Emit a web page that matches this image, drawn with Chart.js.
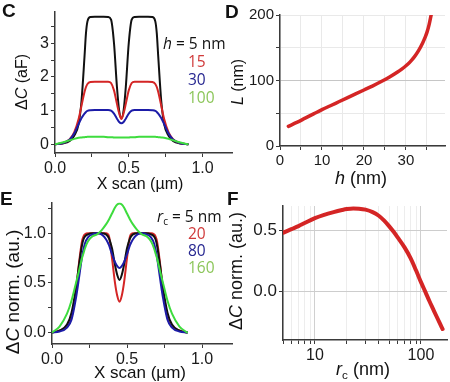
<!DOCTYPE html>
<html><head><meta charset="utf-8">
<script src="https://cdn.jsdelivr.net/npm/chart.js@4.4.1/dist/chart.umd.min.js"></script>
<style>
html,body{margin:0;padding:0;background:#fff;}
#wrap{position:relative;width:450px;height:382px;overflow:hidden;font-family:'Liberation Sans',Arial,sans-serif;background:#fff;}
canvas{position:absolute;}
.t{position:absolute;white-space:nowrap;line-height:1;color:#111;}
.rot{transform:translate(-50%,-50%) rotate(-90deg);}
.hc{transform:translate(-50%,-50%);}
.lg{font-family:'Open Sans',sans-serif;font-size:15.5px;transform:translateY(-50%);}
.pl{font-weight:bold;font-size:19px;}
sub{font-size:0.65em;vertical-align:-0.3em;line-height:0;}
</style></head>
<body><div id="wrap">
<canvas id="cC" width="235" height="191" style="left:0;top:0"></canvas>
<canvas id="cD" width="225" height="191" style="left:225px;top:0"></canvas>
<canvas id="cE" width="235" height="191" style="left:0;top:191px"></canvas>
<canvas id="cF" width="225" height="191" style="left:225px;top:191px"></canvas>

<div class="t pl" style="left:2px;top:1px">C</div>
<div class="t pl" style="left:225px;top:2px">D</div>
<div class="t pl" style="left:0px;top:189px">E</div>
<div class="t pl" style="left:227px;top:189px">F</div>

<div class="t rot" style="left:22px;top:82px;font-size:16px">Δ<i>C</i> (aF)</div>
<div class="t hc" style="left:140px;top:184px;font-size:16px">X scan (µm)</div>
<div class="t rot" style="left:238px;top:82px;font-size:16px"><i>L</i> (nm)</div>
<div class="t hc" style="left:361px;top:178px;font-size:18px"><i>h</i> (nm)</div>
<div class="t rot" style="left:12px;top:292px;font-size:19px">Δ<i>C</i> norm. (au.)</div>
<div class="t hc" style="left:140px;top:372px;font-size:17px">X scan (µm)</div>
<div class="t rot" style="left:236px;top:271px;font-size:18px">Δ<i>C</i> norm. (au.)</div>
<div class="t hc" style="left:363px;top:369px;font-size:18px"><i>r</i><sub>c</sub> (nm)</div>

<div class="t lg" style="left:163px;top:44px;color:#111"><i>h</i> = 5 nm</div>
<div class="t lg" style="left:188px;top:62px;color:#d03a3a">15</div>
<div class="t lg" style="left:188px;top:80px;color:#262690">30</div>
<div class="t lg" style="left:188px;top:98px;color:#8cc65a">100</div>

<div class="t lg" style="left:157px;top:217px;color:#111"><i>r</i><sub>c</sub> = 5 nm</div>
<div class="t lg" style="left:188px;top:234px;color:#d03a3a">20</div>
<div class="t lg" style="left:188px;top:251px;color:#262690">80</div>
<div class="t lg" style="left:188px;top:268px;color:#8cc65a">160</div>
</div>
<script>
// ---------- DATA ----------
// Panel C: ΔC (aF) vs X scan (µm) for h = 5, 15, 30, 100 nm
const cX = [0,0.05,0.1,0.13,0.16,0.18,0.2,0.21,0.22,0.24,0.27,0.3,0.33,0.36,0.38,0.4,0.42,0.435,0.45,0.465,0.48,0.5,0.52,0.54,0.57,0.6,0.63,0.66,0.68,0.69,0.7,0.72,0.74,0.77,0.8,0.85,0.9];
const cH5   = [0,0.02,0.1,0.25,0.6,1.3,2.6,3.3,3.65,3.78,3.79,3.79,3.79,3.78,3.7,3.0,1.7,1.0,0.78,1.0,1.7,3.0,3.7,3.78,3.79,3.79,3.79,3.78,3.65,3.3,2.6,1.3,0.6,0.25,0.1,0.02,0];
const cH15  = [0,0.03,0.15,0.35,0.75,1.15,1.55,1.7,1.79,1.85,1.86,1.86,1.86,1.86,1.82,1.6,1.2,0.92,0.75,0.92,1.2,1.6,1.82,1.86,1.86,1.86,1.86,1.85,1.79,1.7,1.55,1.15,0.75,0.35,0.15,0.03,0];
const cH30  = [0,0.03,0.14,0.32,0.6,0.78,0.91,0.96,0.99,1.01,1.02,1.02,1.02,1.02,1.0,0.91,0.76,0.66,0.62,0.66,0.76,0.91,1.0,1.02,1.02,1.02,1.02,1.01,0.99,0.96,0.91,0.78,0.6,0.32,0.14,0.03,0];
const cH100 = [0,0.05,0.12,0.16,0.19,0.2,0.21,0.215,0.22,0.22,0.22,0.22,0.22,0.21,0.21,0.2,0.2,0.2,0.2,0.2,0.2,0.2,0.21,0.21,0.22,0.22,0.22,0.22,0.22,0.215,0.21,0.2,0.19,0.16,0.12,0.05,0];
// Panel E: ΔC norm. vs X scan (µm) for rc = 5, 20, 80, 160 nm
const eX = [0,0.05,0.1,0.13,0.16,0.18,0.2,0.21,0.22,0.24,0.27,0.3,0.33,0.36,0.38,0.4,0.42,0.435,0.45,0.465,0.48,0.5,0.52,0.54,0.57,0.6,0.63,0.66,0.68,0.69,0.7,0.72,0.74,0.77,0.8,0.85,0.9];
const eR5   = [0,0.02,0.08,0.2,0.45,0.68,0.88,0.94,0.97,0.99,1.0,1.0,1.0,0.99,0.95,0.85,0.68,0.58,0.53,0.58,0.68,0.85,0.95,0.99,1.0,1.0,1.0,0.99,0.97,0.94,0.88,0.68,0.45,0.2,0.08,0.02,0];
const eR20  = [0,0.02,0.06,0.15,0.42,0.7,0.92,0.97,0.99,1.0,1.0,1.0,1.0,1.0,0.97,0.75,0.5,0.37,0.31,0.37,0.5,0.75,0.97,1.0,1.0,1.0,1.0,1.0,0.99,0.97,0.92,0.7,0.42,0.15,0.06,0.02,0];
const eR80  = [0,0.01,0.05,0.13,0.35,0.55,0.76,0.84,0.9,0.96,0.99,1.0,0.99,0.94,0.88,0.79,0.71,0.67,0.65,0.67,0.71,0.79,0.88,0.94,0.99,1.0,0.99,0.96,0.9,0.84,0.76,0.55,0.35,0.13,0.05,0.01,0];
const eR160 = [0,0.06,0.19,0.32,0.5,0.62,0.75,0.8,0.85,0.92,0.97,0.99,1.03,1.09,1.14,1.2,1.26,1.29,1.30,1.29,1.26,1.2,1.14,1.09,1.03,0.99,0.97,0.92,0.85,0.8,0.75,0.62,0.5,0.32,0.19,0.06,0];
// Panel D: L (nm) vs h (nm)
const dH = [2,4,6,8,10,12,14,16,18,20,22,24,26,28,29,30,31,32,33,34,34.5,35,35.5,36];
const dL = [30,36,42.5,49,55.5,61.5,67.5,73.5,79.5,85.5,91.5,98,105,113,117.5,122.5,128.5,136,145.5,157.5,165,173.5,185,200];
// Panel F: ΔC norm. vs rc (nm), log x
const fR  = [5,6,7,8,10,12,15,18,20,23,26,30,35,40,45,50,55,60,70,80,90,100,110,120,130,140,150,160];
const fDC = [0.48,0.51,0.535,0.56,0.60,0.625,0.65,0.667,0.675,0.68,0.678,0.67,0.65,0.62,0.58,0.535,0.49,0.445,0.36,0.27,0.17,0.075,-0.005,-0.08,-0.145,-0.205,-0.26,-0.31];
// Tick labels
const cXLabels = [0, 0.5, 1.0];
const cYLabels = [0, 1, 2, 3];
const dXLabels = [0, 10, 20, 30];
const dYLabels = [0, 100, 200];
const eXLabels = [0, 0.5, 1.0];
const eYLabels = [0, 0.5, 1.0];
const fXTicks  = [5,6,7,8,9,10,20,30,40,50,60,70,80,90,100];
const fXLabels = [10, 100];
const fYLabels = [0, 0.5];

// ---------- HELPERS ----------
const AX = '#3a3a3a';
const FONT = "'Liberation Sans', Arial, sans-serif";
const pts = (xs, ys) => xs.map((x, i) => ({x, y: ys[i]}));
const has = (arr, v) => arr.some(a => Math.abs(a - v) < 1e-9);
function ds(xs, ys, color, w) {
  return {data: pts(xs, ys), borderColor: color, borderWidth: w, pointRadius: 0, fill: false,
          cubicInterpolationMode: 'monotone', borderCapStyle: 'round', borderJoinStyle: 'round'};
}
function sc(o) {
  const s = {
    type: o.type || 'linear', min: o.min, max: o.max,
    border: {display: true, color: AX, width: 1.5},
    grid: {drawOnChartArea: !!o.grid, color: o.grid || AX, tickColor: AX, tickLength: 4, tickWidth: 1},
    ticks: {color: '#1a1a1a', font: {family: FONT, size: o.size}, padding: 2, autoSkip: false,
            maxRotation: 0, minRotation: 0, includeBounds: false,
            callback: v => has(o.labels, v) ? o.fmt(v) : ''},
    afterFit: o.fit
  };
  if (o.step) s.ticks.stepSize = o.step;
  if (o.fixed) s.afterBuildTicks = a => { a.ticks = o.fixed.map(v => ({value: v})); };
  return s;
}
function mk(id, datasets, x, y, pad) {
  new Chart(document.getElementById(id), {
    type: 'line',
    data: {datasets},
    options: {
      responsive: false, animation: false, devicePixelRatio: 1, events: [],
      layout: {padding: pad},
      plugins: {legend: {display: false}, tooltip: {enabled: false}},
      scales: {x, y}
    }
  });
}
const RED = '#d42525', BLUE = '#1c1ca8', GREEN = '#3edc3e', BLK = '#111111';
const f1 = v => v.toFixed(1), f0 = v => String(v);

// ---------- C ----------
mk('cC', [ds(cX, cH100, GREEN, 2), ds(cX, cH30, BLUE, 2), ds(cX, cH15, RED, 2), ds(cX, cH5, BLK, 2)],
  sc({min: 0, max: 1.2, step: 0.25, labels: cXLabels, fmt: f1, size: 16, fit: s => { s.height = 38; }}),
  sc({min: -0.26, max: 3.94, step: 0.5, labels: cYLabels, fmt: f0, size: 16, fit: s => { s.width = 55; }}),
  {left: 0, top: 10, right: 3, bottom: 0});

// ---------- D ----------
mk('cD', [ds(dH, dL, RED, 3.5)],
  sc({min: 0, max: 39.3, step: 5, labels: dXLabels, fmt: f0, size: 15, grid: '#e9e9e9', fit: s => { s.height = 45; }}),
  sc({min: 0, max: 200, step: 50, labels: dYLabels, fmt: f0, size: 15,
      grid: c => (c.tick && c.tick.value === 100) ? '#c6c6c6' : '#e9e9e9', fit: s => { s.width = 55; }}),
  {left: 0, top: 15, right: 5, bottom: 0});

// ---------- E ----------
mk('cE', [ds(eX, eR160, GREEN, 2), ds(eX, eR80, BLUE, 2), ds(eX, eR5, BLK, 2), ds(eX, eR20, RED, 2)],
  sc({min: 0, max: 1.2, step: 0.25, labels: eXLabels, fmt: f1, size: 16, fit: s => { s.height = 38; }}),
  sc({min: -0.116, max: 1.31, step: 0.25, labels: eYLabels, fmt: f1, size: 16, fit: s => { s.width = 52; }}),
  {left: 0, top: 10, right: 3, bottom: 0});

// ---------- F ----------
mk('cF', [ds(fR, fDC, RED, 4)],
  sc({type: 'logarithmic', min: 5, max: 176, fixed: fXTicks, labels: fXLabels, fmt: f0, size: 16,
      grid: c => (c.tick && (c.tick.value === 10 || c.tick.value === 100)) ? '#d0d0d0' : '#ededed',
      fit: s => { s.height = 42; }}),
  sc({min: -0.40, max: 0.70, step: 0.5, labels: fYLabels, fmt: f1, size: 17, grid: '#cdcdcd', fit: s => { s.width = 58; }}),
  {left: 0, top: 15, right: 3, bottom: 0});
</script>
</body></html>
